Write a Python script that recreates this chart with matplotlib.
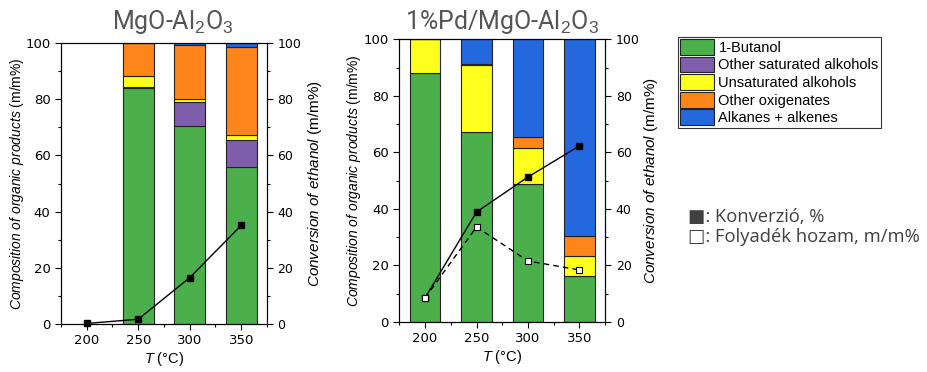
import matplotlib
matplotlib.use('Agg')
import matplotlib.pyplot as plt
from matplotlib.patches import Patch
from matplotlib.ticker import MultipleLocator

plt.rcParams['font.family'] = 'DejaVu Sans'
plt.rcParams['mathtext.fontset'] = 'custom'
plt.rcParams['mathtext.rm'] = 'Liberation Sans'
plt.rcParams['mathtext.it'] = 'Liberation Sans:italic'

# Temperatures (°C)
temps_all = [200, 250, 300, 350]

# MgO-Al2O3 composition (no bar at 200 °C)
temps_a = [250, 300, 350]
butanol_a = [84.0, 70.6, 55.7]
other_sat_a = [0.5, 8.5, 9.9]
unsat_a = [3.7, 1.0, 1.8]
oxy_a = [11.8, 19.3, 31.3]
alk_a = [0.0, 0.6, 1.3]
conv_a = [0.2, 1.7, 16.5, 35.1]

# 1%Pd/MgO-Al2O3 composition
temps_b = [200, 250, 300, 350]
butanol_b = [88.2, 67.1, 48.8, 16.3]
other_sat_b = [0.0, 0.0, 0.0, 0.0]
unsat_b = [11.8, 23.8, 12.6, 7.0]
oxy_b = [0.0, 0.3, 4.2, 7.0]
alk_b = [0.0, 8.8, 34.4, 69.7]
conv_b = [8.5, 38.9, 51.3, 62.3]
yield_b = [8.5, 33.6, 21.6, 18.4]

labels = ['1-Butanol', 'Other saturated alkohols', 'Unsaturated alkohols',
          'Other oxigenates', 'Alkanes + alkenes']
colors = ['#4bb04b', '#7f5fab', '#ffff1e', '#ff851b', '#2468e0']

fig = plt.figure(figsize=(9.27, 3.72), dpi=100)


def draw_panel(rect, temps, series, conv, yld, title, title_x, lab_l, lab_r):
    ax = fig.add_axes(rect)
    bottom = [0.0] * len(temps)
    for vals, c in zip(series, colors):
        ax.bar(temps, vals, width=30, bottom=bottom, color=c,
               edgecolor='#222222', linewidth=0.8, zorder=2)
        bottom = [b + v for b, v in zip(bottom, vals)]
    ax.set_xlim(175, 375)
    ax.set_ylim(0, 100)
    ax.set_xticks(temps_all)
    ax.xaxis.set_minor_locator(MultipleLocator(25))
    ax.yaxis.set_major_locator(MultipleLocator(20))
    ax.yaxis.set_minor_locator(MultipleLocator(10))
    ax.tick_params(which='both', direction='out', labelsize=9.5, width=0.8)
    ax.tick_params(which='major', length=4)
    ax.tick_params(which='minor', length=2.5)
    ax.set_ylabel(r'$\mathit{Composition\ of\ organic\ products}$ (m/m%)',
                  fontsize=10, family='Liberation Sans')
    ax.yaxis.set_label_coords(lab_l, 0.5)
    ax.set_xlabel(r'$\mathit{T}$ (°C)', fontsize=10.5, family='Liberation Sans',
                  labelpad=2)
    for s in ax.spines.values():
        s.set_linewidth(0.8)

    ax2 = ax.twinx()
    ax2.set_ylim(0, 100)
    ax2.yaxis.set_major_locator(MultipleLocator(20))
    ax2.yaxis.set_minor_locator(MultipleLocator(10))
    ax2.tick_params(which='both', direction='out', labelsize=9, width=0.8)
    ax2.tick_params(which='major', length=4)
    ax2.tick_params(which='minor', length=2.5)
    ax2.set_ylabel(r'$\mathit{Conversion\ of\ ethanol}$ (m/m%)',
                   fontsize=11, family='Liberation Sans')
    ax2.yaxis.set_label_coords(lab_r, 0.5)
    ax2.plot(temps_all, conv, color='black', linewidth=1, marker='s',
             markersize=4.5, markerfacecolor='black', markeredgecolor='black',
             zorder=5, clip_on=False)
    if yld is not None:
        ax2.plot(temps_all, yld, color='black', linewidth=1, linestyle=(0, (4, 3)),
                 marker='s', markersize=4.5, markerfacecolor='white',
                 markeredgecolor='black', markeredgewidth=0.8, zorder=5)
    fig.text(title_x, 1 - 29 / 372, title, ha='center', va='baseline',
             fontsize=18, color='#555555', family='Roboto')
    return ax


draw_panel([0.0658, 0.129, 0.2222, 0.7554], temps_a,
           [butanol_a, other_sat_a, unsat_a, oxy_a, alk_a], conv_a, None,
           r'MgO-Al$_2$O$_3$', 173 / 927, -0.17, 1.19)
draw_panel([0.4307, 0.1344, 0.2222, 0.76], temps_b,
           [butanol_b, other_sat_b, unsat_b, oxy_b, alk_b], conv_b, yield_b,
           r'1%Pd/MgO-Al$_2$O$_3$', 502 / 927, -0.176, 1.178)

handles = [Patch(facecolor=c, edgecolor='#222222', linewidth=0.8) for c in colors]
leg = fig.legend(handles, labels, loc='upper left', bbox_to_anchor=(0.7317, 0.9013),
                 prop={'family': 'Liberation Sans', 'size': 10.5}, frameon=True,
                 fancybox=False, edgecolor='black', borderpad=0.15,
                 labelspacing=0.12, handlelength=2.3, handleheight=1.3,
                 handletextpad=0.3, borderaxespad=0)
leg.get_frame().set_linewidth(0.8)

fig.text(0.742, 0.418, '■: Konverzió, %', fontsize=13.2, color='#404040',
         family=['Open Sans', 'DejaVu Sans'], va='center')
fig.text(0.742, 0.364, '□: Folyadék hozam, m/m%', fontsize=13.2, color='#404040',
         family=['Open Sans', 'DejaVu Sans'], va='center')

fig.savefig('out.png', dpi=100)
